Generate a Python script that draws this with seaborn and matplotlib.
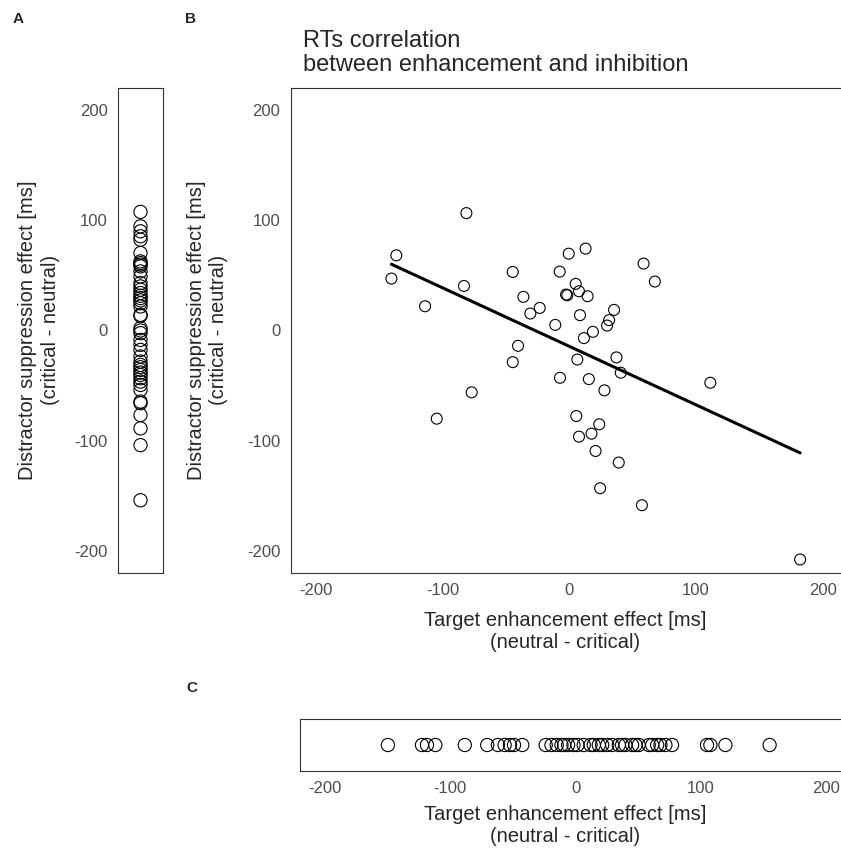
import numpy as np
import pandas as pd
import matplotlib
matplotlib.use("Agg")
import matplotlib.pyplot as plt
import seaborn as sns

# Panel B: enhancement (x) vs suppression (y), ms
enh_b = [-136.6, -140.5, -81.3, -83.2, -113.9, -44.7, -36.3, -30.8, -23.4, -11.1,
         -7.6, -2.6, -0.5, -40.5, -44.7, -7.4, -77.1, -104.7, 12.8, 5.0,
         -1.6, 7.6, 14.4, 58.6, 67.5, 8.4, 35.3, 31.4, 29.8, 18.6,
         11.5, 6.3, 37.2, 40.6, 15.4, 27.7, 111.3, 5.5, 23.6, 17.5,
         7.6, 20.7, 39.0, 24.3, 57.3, 182.2]
sup_b = [68.2, 47.1, 106.5, 40.4, 22.0, 53.1, 30.5, 15.4, 20.5, 5.1,
         53.4, 32.6, 69.7, -13.9, -28.7, -42.9, -56.1, -80.0, 74.3, 42.3,
         32.0, 35.6, 31.1, 60.7, 44.4, 13.9, 18.7, 9.4, 4.5, -1.2,
         -6.9, -26.3, -24.4, -38.3, -44.1, -54.3, -47.4, -77.6, -85.1, -93.6,
         -96.3, -109.3, -119.8, -143.1, -158.5, -207.7]

# Panel A: distractor suppression effect, ms
sup_a = [107.6, 94.5, 90.0, 85.5, 82.4, 70.3, 62.7, 61.2, 59.7, 58.2,
         53.6, 49.0, 43.0, 40.0, 37.0, 34.0, 31.5, 29.4, 27.3, 24.8,
         21.8, 14.2, 13.3, 2.1, 0.0, -2.4, -8.5, -13.0, -17.6, -23.6,
         -28.2, -31.2, -33.3, -35.8, -38.2, -40.3, -43.3, -46.4, -49.4, -53.9,
         -64.5, -66.0, -76.7, -88.8, -104.0, -154.0]

# Panel C: target enhancement effect, ms
enh_c = [-149.8, -122.6, -118.6, -111.9, -88.4, -70.5, -62.0, -56.6, -52.3, -49.1,
         -42.5, -23.8, -19.2, -15.0, -11.2, -9.1, -5.9, -1.6, 1.6, 6.6,
         12.0, 14.6, 18.6, 21.3, 25.3, 29.3, 34.6, 37.2, 39.9, 45.2,
         47.9, 50.5, 58.5, 61.2, 65.2, 67.8, 71.8, 77.1, 105.0, 107.7,
         119.7, 155.0]

ticks = [-200, -100, 0, 100, 200]
ylab = "Distractor suppression effect [ms]\n(critical - neutral)"
xlab = "Target enhancement effect [ms]\n(neutral - critical)"

sns.set_theme(style="white")
plt.rcParams['font.family'] = ['Liberation Sans', 'DejaVu Sans']
plt.rcParams['axes.unicode_minus'] = False

W, H = 841, 852
fig = plt.figure(figsize=(W / 100, H / 100), dpi=100)


def px(l, t, r, b):
    return [l / W, 1 - b / H, (r - l) / W, (b - t) / H]


def style(ax):
    for s in ax.spines.values():
        s.set_visible(True)
        s.set_color('#333333')
        s.set_linewidth(0.8)
    ax.tick_params(colors='#333333', labelcolor='#4D4D4D', labelsize=12,
                   length=4, width=0.8, direction='out')


def hollow(ax):
    for c in ax.collections:
        c.set_facecolor('none')
        c.set_edgecolor('black')
        c.set_linewidth(0.8)
        c.set_alpha(1)


# A
ax_a = fig.add_axes(px(118, 88, 163, 573))
df_a = pd.DataFrame({'g': 0, 'y': sup_a})
sns.stripplot(data=df_a, x='g', y='y', jitter=False, size=9.5, color='black',
              native_scale=True, ax=ax_a)
hollow(ax_a)
ax_a.set_xlim(-1, 1)
ax_a.set_ylim(-220, 220)
ax_a.set_yticks(ticks)
ax_a.set_xticks([])
ax_a.set_xlabel('')
ax_a.set_ylabel('')
style(ax_a)
ax_a.tick_params(axis='x', length=0)

# B
ax_b = fig.add_axes(px(290.7, 88, 848, 573))
df_b = pd.DataFrame({'enh': enh_b, 'sup': sup_b})
sns.regplot(data=df_b, x='enh', y='sup', ci=None, color='black', ax=ax_b,
            scatter_kws={'s': 62, 'alpha': 1},
            line_kws={'lw': 2.2, 'color': 'black'})
hollow(ax_b)
ax_b.set_xlim(-220, 220)
ax_b.set_ylim(-220, 220)
ax_b.set_xticks(ticks)
ax_b.set_yticks(ticks)
ax_b.set_xlabel('')
ax_b.set_ylabel('')
style(ax_b)

# C
ax_c = fig.add_axes(px(300, 719, 851, 771))
df_c = pd.DataFrame({'x': enh_c, 'g': 0})
sns.stripplot(data=df_c, x='x', y='g', jitter=False, size=9.5, color='black',
              orient='h', native_scale=True, ax=ax_c)
hollow(ax_c)
ax_c.set_xlim(-220, 220)
ax_c.set_ylim(-1, 1)
ax_c.set_xticks(ticks)
ax_c.set_yticks([])
ax_c.set_xlabel('')
ax_c.set_ylabel('')
style(ax_c)
ax_c.tick_params(axis='y', length=0)

# labels
fig.text(39 / W, 1 - 330 / H, ylab, rotation=90, ha='center', va='center',
         multialignment='center', fontsize=14.5)
fig.text(207 / W, 1 - 330 / H, ylab, rotation=90, ha='center', va='center',
         multialignment='center', fontsize=14.5)
fig.text(565 / W, 1 - 632 / H, xlab, ha='center', va='center',
         multialignment='center', fontsize=14.5)
fig.text(565 / W, 1 - 826 / H, xlab, ha='center', va='center',
         multialignment='center', fontsize=14.5)
fig.text(303 / W, 1 - 53 / H, "RTs correlation\nbetween enhancement and inhibition",
         ha='left', va='center', fontsize=17, linespacing=1.15)

for lab, x, y in [('A', 18, 19), ('B', 190, 19), ('C', 192, 688)]:
    fig.text(x / W, 1 - y / H, lab, ha='center', va='center', fontsize=11,
             fontweight='bold')

fig.savefig('out.png', dpi=100)
